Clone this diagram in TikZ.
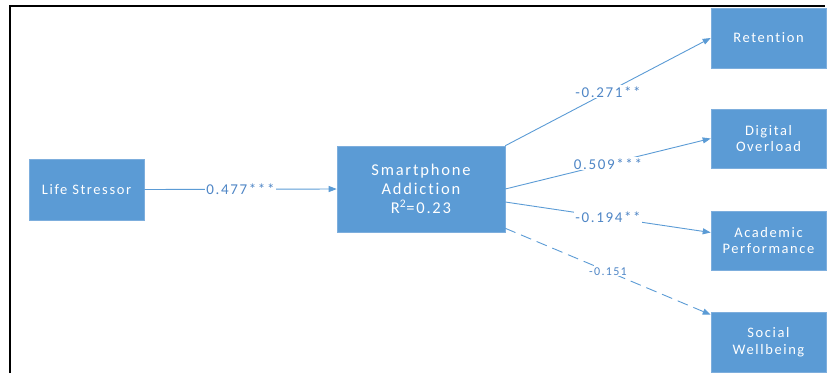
\documentclass[tikz,border=0pt]{standalone}
\usepackage{fontspec}
\setmainfont{Carlito}[LetterSpace=11,Ligatures={NoCommon,NoContextual}]
\usetikzlibrary{arrows.meta,calc}
\definecolor{boxblue}{HTML}{5B9BD5}
\definecolor{boxedge}{HTML}{7DAEDD}
\definecolor{lineblue}{HTML}{5B9BD5}
\definecolor{labblue}{HTML}{4F86C6}
\begin{document}
\begin{tikzpicture}[x=1pt,y=-1pt,
  var/.style={rectangle,fill=boxblue,draw=boxedge,line width=0.6pt,text=white,align=center,
    minimum width=115pt,inner sep=0pt,font=\fontsize{14.5}{16.5}\selectfont},
  big/.style={var,minimum width=168pt,minimum height=86pt,font=\fontsize{16.5}{19}\selectfont},
  path/.style={draw=lineblue,line width=0.9pt,-{Triangle[length=8pt,width=6pt]}},
  coef/.style={fill=white,text=labblue,inner sep=1pt,font=\fontsize{15}{16}\selectfont},
  coefsmall/.style={coef,font=\fontsize{12}{13}\selectfont}]
\useasboundingbox (0,0) rectangle (836,373);
\draw[line width=2pt] (10,373) -- (10,6) -- (825,6);
\node[var,minimum height=61pt] (ls) at (86.5,189.5) {Life Stressor};
\node[big] (sa) at (421,189) {Smartphone\\Addiction\\R\textsuperscript{2}=0.23};
\node[var,minimum height=60pt] (ret) at (768.5,38) {Retention};
\node[var,minimum height=59pt] (dig) at (768.5,138.5) {Digital\\Overload};
\node[var,minimum height=59pt] (aca) at (768.5,240.5) {Academic\\Performance};
\node[var,minimum height=60pt] (soc) at (768.5,342) {Social\\Wellbeing};
\draw[path] (ls.east) -- node[coef] (l1) {0.477***} (sa.west);
\draw[path] (sa.north east) -- node[coef] (l2) {-0.271**} (ret.west);
\draw[path] (sa.east) -- node[coef] (l3) {0.509***} (dig.west);
\draw[path] ($(sa.east)+(0,13)$) -- node[coef] (l4) {-0.194**} ($(aca.west)+(0,-8)$);
\draw[path,dash pattern=on 11pt off 6pt] ($(sa.south east)+(0,-4)$) -- node[coefsmall] (l5) {-0.151} ($(soc.north west)+(0,3)$);
\end{tikzpicture}
\end{document}
